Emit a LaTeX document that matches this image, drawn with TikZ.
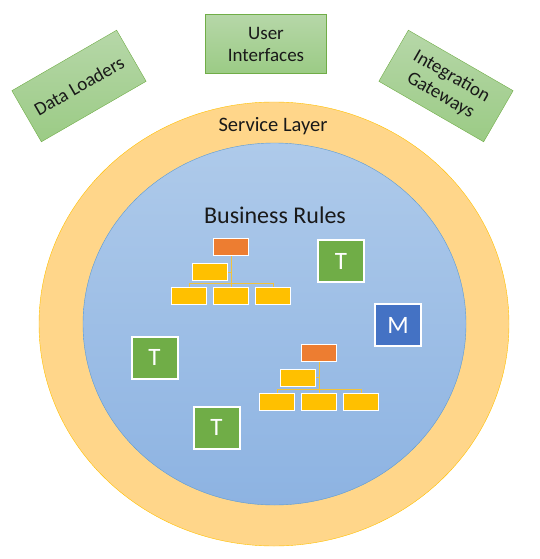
\documentclass[tikz,border=0pt]{standalone}
\usepackage{fontspec}
\setmainfont{Carlito}
\usetikzlibrary{positioning,calc}
\definecolor{svcfill}{HTML}{FFD68A}
\definecolor{svcline}{HTML}{FFC000}
\definecolor{coretop}{HTML}{AECAEA}
\definecolor{corebot}{HTML}{8DB3E2}
\definecolor{coreline}{HTML}{5B9BD5}
\definecolor{clienttop}{HTML}{B6D7A8}
\definecolor{clientbot}{HTML}{9BCB85}
\definecolor{clientline}{HTML}{70AD47}
\definecolor{unitgreen}{HTML}{70AD47}
\definecolor{unitblue}{HTML}{4472C4}
\definecolor{leadorange}{HTML}{ED7D31}
\definecolor{leafyellow}{HTML}{FFC000}
\definecolor{linkyellow}{HTML}{F2C33C}

\begin{document}
\begin{tikzpicture}[
  x=1pt, y=-1pt,
  layer/.style={font=\fontsize{20.5}{24}\selectfont, text=black!90},
  client/.style={draw=clientline, top color=clienttop, bottom color=clientbot,
    minimum width=121pt, minimum height=59pt, inner sep=2pt, align=center,
    font=\fontsize{19}{22}\selectfont, text=black!90},
  unit/.style={draw=white, line width=2pt, minimum width=46pt,
    minimum height=42pt, text=white, font=\fontsize{25}{28}\selectfont},
  lead/.style={draw=white, line width=1pt, fill=leadorange,
    minimum width=35pt, minimum height=17pt, inner sep=0pt},
  leaf/.style={lead, fill=leafyellow},
  link/.style={draw=linkyellow, line width=1pt},
]
\useasboundingbox (0,0) rectangle (540,559);

% layers
\draw[draw=svcline, fill=svcfill] (274,324) ellipse [x radius=235pt, y radius=222pt];
\draw[draw=coreline, top color=coretop, bottom color=corebot]
  (274.5,324) ellipse [x radius=191.5pt, y radius=181pt];
\node[layer] (svc) at (273,126) {Service Layer};
\node[layer, font=\fontsize{24}{28}\selectfont] (rules) at (275,215) {Business Rules};

% clients around the service layer
\node[client, rotate=30] (loaders) at (79,86) {Data Loaders};
\node[client] (ui) at (266,44) {User\\Interfaces};
\node[client, rotate=-30] (gateways) at (446,86) {Integration\\Gateways};

% rule trees
\node[lead] (head1) at (231,247) {};
\node[leaf, below=7pt of head1, xshift=-21pt] (mid1) {};
\node[leaf, below=31pt of head1] (leaf1b) {};
\node[leaf, left=6pt of leaf1b] (leaf1a) {};
\node[leaf, right=6pt of leaf1b] (leaf1c) {};
\draw[link] (head1.south) -- (leaf1b.north);
\draw[link] (leaf1a.north) -- ++(0,3.5pt) -| (leaf1c.north);
\draw[link] (mid1.east) -- (mid1.east -| head1.south);

\node[lead] (head2) at (319,352.5) {};
\node[leaf, below=7pt of head2, xshift=-21pt] (mid2) {};
\node[leaf, below=31pt of head2] (leaf2b) {};
\node[leaf, left=6pt of leaf2b] (leaf2a) {};
\node[leaf, right=6pt of leaf2b] (leaf2c) {};
\draw[link] (head2.south) -- (leaf2b.north);
\draw[link] (leaf2a.north) -- ++(0,3.5pt) -| (leaf2c.north);
\draw[link] (mid2.east) -- (mid2.east -| head2.south);

% units
\node[unit, fill=unitgreen] (t1) at (341,261) {T};
\node[unit, fill=unitblue] (m1) at (398,325) {M};
\node[unit, fill=unitgreen] (t2) at (154.5,357.5) {T};
\node[unit, fill=unitgreen] (t3) at (216.5,427.5) {T};
\end{tikzpicture}
\end{document}
